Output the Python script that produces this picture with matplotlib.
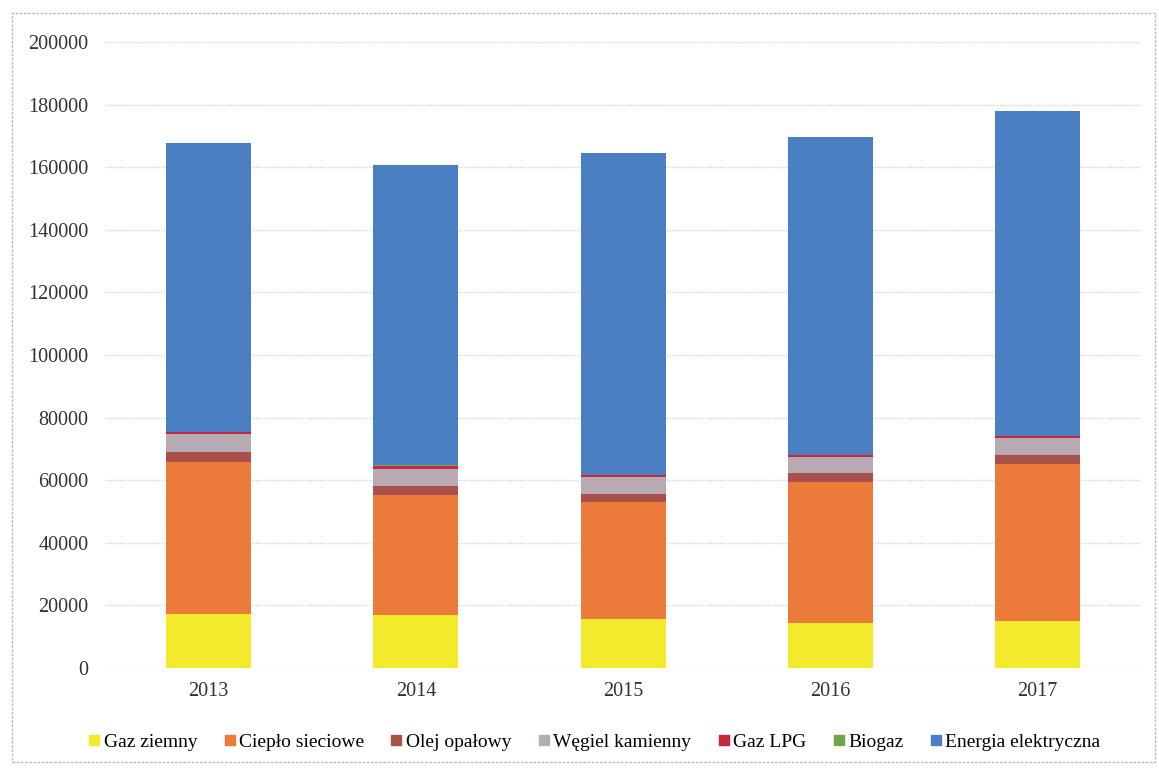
import matplotlib.pyplot as plt
import matplotlib.patches as mpatches
from matplotlib.lines import Line2D
import numpy as np

# dane
lata = ['2013', '2014', '2015', '2016', '2017']
gaz_ziemny = [17400, 16800, 15700, 14500, 15000]
cieplo = [48400, 38600, 37200, 44900, 50200]
olej = [3200, 2900, 2600, 2900, 2900]
wegiel = [5700, 5200, 5400, 5000, 5300]
gaz_lpg = [600, 1000, 700, 700, 600]
biogaz = [100, 300, 200, 200, 200]
energia = [92300, 95800, 102600, 101400, 103600]

nazwy = ['Gaz ziemny', 'Ciepło sieciowe', 'Olej opałowy', 'Węgiel kamienny',
         'Gaz LPG', 'Biogaz', 'Energia elektryczna']
kolory = ['#f4ea2c', '#ec7a3a', '#a9524c', '#b7aab4', '#c8283a', '#6fa64a', '#4a7fc4']
serie = [gaz_ziemny, cieplo, olej, wegiel, gaz_lpg, biogaz, energia]

plt.rcParams['font.family'] = ['Liberation Serif', 'DejaVu Serif']

fig = plt.figure(figsize=(11.59, 7.69), dpi=100)
ax = fig.add_axes([0.0906, 0.1313, 0.894, 0.8141])

x = np.arange(len(lata))
dol = np.zeros(len(lata))
for s, k in zip(serie, kolory):
    ax.bar(x, s, 0.41, bottom=dol, color=k, zorder=3)
    dol += np.array(s)

ax.set_xlim(-0.5, 4.5)
ax.set_ylim(0, 200000)
ax.set_yticks(range(0, 200001, 20000))
ax.set_xticks(x)
ax.set_xticklabels(lata)
ax.tick_params(length=0, labelsize=14.5, colors='#333333', pad=10)
ax.tick_params(axis='y', pad=12)
ax.grid(axis='y', color='#d6d0e0', linestyle=(0, (1, 1)), linewidth=1, zorder=0)
for sp in ax.spines.values():
    sp.set_visible(False)

uchwyty = [Line2D([], [], marker='s', linestyle='', color=k, markersize=7) for k in kolory]
fig.legend(uchwyty, nazwy, loc='center', bbox_to_anchor=(0.512, 0.035), ncol=7,
           frameon=False, fontsize=14, handletextpad=0.1, columnspacing=1.25,
           handlelength=0.8)

# ramka wokół wykresu
fig.patches.append(mpatches.Rectangle((12 / 1159, 7 / 769), 1143 / 1159, 749 / 769,
                                      transform=fig.transFigure, fill=False,
                                      edgecolor='#bbbbbb', linewidth=1, linestyle=(0, (2, 1))))

fig.savefig('out.png', dpi=100)
